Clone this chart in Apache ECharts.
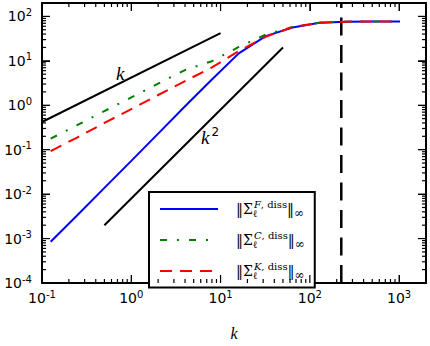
<!DOCTYPE html>
<html>
<head>
<meta charset="utf-8">
<script src="https://cdn.jsdelivr.net/npm/echarts@6/dist/echarts.min.js"></script>
<style>
html, body { margin: 0; padding: 0; background: #fff; }
#chart { width: 430px; height: 346px; }
</style>
</head>
<body>
<div id="chart"></div>
<script>
// data (log-log)
const kValues = [0.125, 0.25, 0.5, 1, 2, 4, 8, 16, 32, 64, 128, 256, 512, 1024]
const sigmaF = [0.00085, 0.0034, 0.0138, 0.056, 0.23, 0.95, 3.8, 14.7, 36, 56, 71.6, 76, 77, 77]
const sigmaC = [0.177, 0.36, 0.74, 1.5, 3.07, 6.2, 9.8, 20.5, 39, 57.5, 72, 76, 77, 77]
const sigmaK = [0.093, 0.19, 0.40, 0.82, 1.7, 3.5, 7.1, 16.5, 34.7, 57.5, 72, 76, 77, 77]
const slopeOneK = [0.1, 10]
const slopeOneY = [0.42, 42]
const slopeTwoK = [0.5, 50]
const slopeTwoY = [0.002, 20]
const cutoffK = 225

const xTicks = [0.1, 1, 10, 100, 1000]
const yTicks = [1e-4, 1e-3, 1e-2, 1e-1, 1, 10, 100]
const xRange = [0.1, 2000]
const yRange = [1e-4, 200]

const legendNames = ['F', 'C', 'K']

const zip = (xs, ys) => xs.map((x, i) => [x, ys[i]])

// minor ticks 2..9 per decade
function minorTicks(range) {
  const out = []
  const lo = Math.floor(Math.log10(range[0]) + 1e-9)
  const hi = Math.ceil(Math.log10(range[1]) - 1e-9)
  for (let e = lo; e < hi; e++) {
    for (let m = 2; m <= 9; m++) {
      const v = m * Math.pow(10, e)
      if (v > range[0] * 1.0001 && v < range[1] * 0.9999) out.push(v)
    }
  }
  return out
}

function powLabel(v, ticks) {
  let best = ticks[0]
  ticks.forEach(t => { if (Math.abs(Math.log10(t / v)) < Math.abs(Math.log10(best / v))) best = t })
  return '{b|10}{s|' + Math.round(Math.log10(best)) + '}'
}

const labelRich = () => ({
  b: { fontFamily: 'DejaVu Sans', fontSize: 14, color: '#000' },
  s: { fontFamily: 'DejaVu Sans', fontSize: 10, color: '#000', padding: [0, 0, 8, 0] }
})

// one log axis (fresh objects each time)
function logAxis(range, position, labels) {
  return {
    type: 'log', logBase: 10, min: range[0], max: range[1], position: position,
    axisLine: { show: true, onZero: false, lineStyle: { color: '#000', width: 2 } },
    axisTick: { show: true, inside: true, length: 8, lineStyle: { color: '#000', width: 1 } },
    splitLine: { show: false },
    axisLabel: labels
      ? { show: true, showMaxLabel: false, margin: position === 'left' ? 10 : 6, formatter: v => powLabel(v, labels), rich: labelRich() }
      : { show: false }
  }
}

// tick marks along one side of the frame: [value, value, length]
const xTickData = xTicks.map(v => [v, 1, 8]).concat(minorTicks(xRange).map(v => [v, 1, 4]))
const yTickData = yTicks.map(v => [1, v, 8]).concat(minorTicks(yRange).map(v => [1, v, 4]))

function tickSeries(side) {
  const onX = side === 'bottom' || side === 'top'
  return {
    name: 'tick-' + side, type: 'custom', z: 10, clip: false,
    data: onX ? xTickData : yTickData,
    renderItem: (params, api) => {
      const len = api.value(2)
      let p, shape
      if (side === 'bottom') { p = api.coord([api.value(0), yRange[0]]); shape = { x: p[0] - 0.6, y: p[1] - len, width: 1.2, height: len } }
      if (side === 'top') { p = api.coord([api.value(0), yRange[1]]); shape = { x: p[0] - 0.6, y: p[1], width: 1.2, height: len } }
      if (side === 'left') { p = api.coord([xRange[0], api.value(1)]); shape = { x: p[0], y: p[1] - 0.6, width: len, height: 1.2 } }
      if (side === 'right') { p = api.coord([xRange[1], api.value(1)]); shape = { x: p[0] - len, y: p[1] - 0.6, width: len, height: 1.2 } }
      return { type: 'rect', shape: shape, style: { fill: '#000' } }
    }
  }
}

const myChart = echarts.init(document.getElementById('chart'), null, { renderer: 'svg' })

const bottomAxis = logAxis(xRange, 'bottom', xTicks)
bottomAxis.name = 'k'
bottomAxis.nameLocation = 'middle'
bottomAxis.nameGap = 42
bottomAxis.nameTextStyle = { fontFamily: 'Liberation Serif', fontStyle: 'italic', fontSize: 16, color: '#000' }

const option = {
  animation: false,
  grid: { left: 42, right: 4, top: 3, bottom: 50 },
  xAxis: [bottomAxis, logAxis(xRange, 'top', null)],
  yAxis: [logAxis(yRange, 'left', yTicks), logAxis(yRange, 'right', null)],
  legend: {
    data: legendNames,
    orient: 'vertical',
    left: 149, top: 192,
    padding: [7, 10, 7, 10],
    itemWidth: 58, itemHeight: 14, itemGap: 11.5,
    backgroundColor: '#fff',
    borderColor: '#000', borderWidth: 2, borderRadius: 0,
    selectedMode: false,
    itemStyle: { color: 'rgba(0,0,0,0)', borderWidth: 0, opacity: 0 },
    formatter: name => '{n|‖Σ}{l|ℓ}{si|' + name + '}{s|, diss}{n|‖}{i|∞}',
    textStyle: {
      padding: [0, 0, 0, 13],
      rich: {
        n: { fontFamily: 'DejaVu Serif', fontSize: 14, color: '#000' },
        l: { fontFamily: 'DejaVu Serif', fontSize: 10, color: '#000', width: 1, padding: [8, 0, 0, 0] },
        si: { fontFamily: 'DejaVu Serif', fontStyle: 'italic', fontSize: 10, color: '#000', padding: [0, 0, 10, 0] },
        s: { fontFamily: 'DejaVu Serif', fontSize: 10, color: '#000', padding: [0, 0, 10, 0] },
        i: { fontFamily: 'DejaVu Serif', fontSize: 12, color: '#000', padding: [7, 0, 0, 0] }
      }
    }
  },
  graphic: [
    {
      type: 'text', left: 116, top: 64, z: 10,
      style: { text: 'k', font: 'italic 19px "Liberation Serif"', fill: '#000' }
    },
    {
      type: 'text', left: 201, top: 126, z: 10,
      style: {
        text: '{k|k}{p|2}',
        rich: {
          k: { font: 'italic 19px "Liberation Serif"', fill: '#000' },
          p: { font: '12px "DejaVu Sans"', fill: '#000', padding: [0, 0, 10, 2] }
        }
      }
    }
  ],
  series: [
    {
      name: 'slope1', type: 'line', symbol: 'none', data: zip(slopeOneK, slopeOneY),
      lineStyle: { color: '#000', width: 2 }, z: 3
    },
    {
      name: 'slope2', type: 'line', symbol: 'none', data: zip(slopeTwoK, slopeTwoY),
      lineStyle: { color: '#000', width: 2 }, z: 3
    },
    {
      name: 'cutoff', type: 'line', symbol: 'none', data: zip([cutoffK, cutoffK], yRange),
      lineStyle: { color: '#000', width: 2.5, type: [18, 9.5] }, z: 3
    },
    {
      name: 'F', type: 'line', symbol: 'none', data: zip(kValues, sigmaF),
      color: '#0000ff', lineStyle: { color: '#0000ff', width: 2 }, z: 4
    },
    {
      name: 'C', type: 'line', symbol: 'none', data: zip(kValues, sigmaC),
      color: '#008000', lineStyle: { color: '#008000', width: 2, type: [7, 10, 2, 10] }, z: 5
    },
    {
      name: 'K', type: 'line', symbol: 'none', data: zip(kValues, sigmaK),
      color: '#ff0000', lineStyle: { color: '#ff0000', width: 2, type: [12, 8] }, z: 6
    },
    tickSeries('bottom'),
    tickSeries('top'),
    tickSeries('left'),
    tickSeries('right')
  ]
}

myChart.setOption(option)
</script>
</body>
</html>
